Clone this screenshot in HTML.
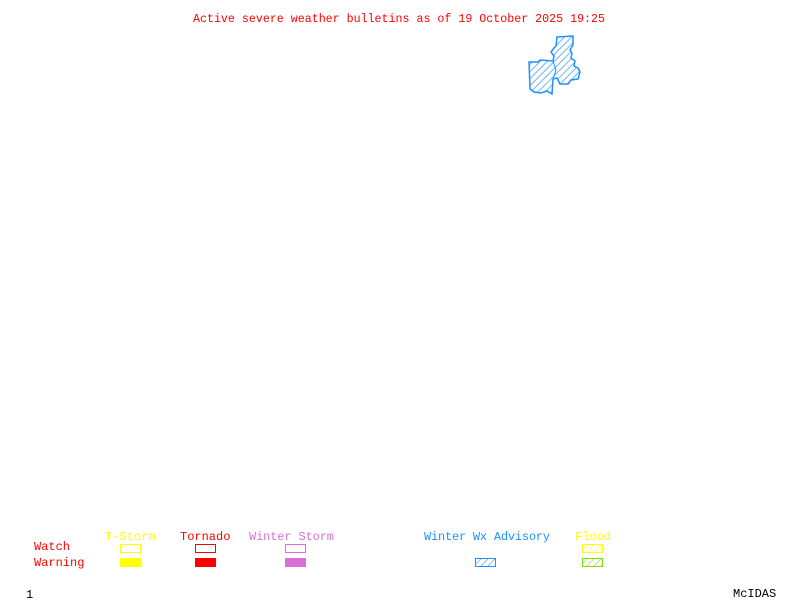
<!DOCTYPE html>
<html><head><meta charset="utf-8"><style>
html,body{margin:0;padding:0;background:#fff;width:800px;height:600px;overflow:hidden}
text{font-family:"Liberation Mono","DejaVu Sans Mono",monospace;font-size:12px}
</style></head><body>
<svg width="800" height="600" xmlns="http://www.w3.org/2000/svg">
<defs>
<pattern id="hb" width="5" height="5" patternUnits="userSpaceOnUse" patternTransform="rotate(45)"><line x1="0" y1="0" x2="0" y2="5" stroke="#1e90ff" stroke-width="1.3"/></pattern>
<pattern id="hb2" width="5" height="5" patternUnits="userSpaceOnUse" patternTransform="rotate(45)"><line x1="0" y1="0" x2="0" y2="5" stroke="#1e90ff" stroke-width="1"/></pattern>
<pattern id="hy" width="5" height="5" patternUnits="userSpaceOnUse" patternTransform="rotate(45)"><line x1="0" y1="0" x2="0" y2="5" stroke="#ffff00" stroke-width="1"/></pattern>
<pattern id="hg" width="5" height="5" patternUnits="userSpaceOnUse" patternTransform="rotate(45)"><line x1="0" y1="0" x2="0" y2="5" stroke="#7fdd00" stroke-width="1"/></pattern>
</defs>
<text x="193" y="22" fill="#ff0000" textLength="412" lengthAdjust="spacingAndGlyphs">Active severe weather bulletins as of 19 October 2025 19:25</text>
<path d="M557,37 L573,36 L573,45 L570,50 L572,53 L571,58 L575,61 L574,66 L578,68 L580,72 L578,79 L571,80 L568,84 L560,84 L557,78 L553,79 L552,94 L547,91 L541,93 L534,92 L530,89 L529,62 L538,62 L540,60 L553,61 L554,56 L551,52 L554,48 L556,46 Z" fill="url(#hb)" stroke="#1e90ff" stroke-width="1.5"/>
<path d="M553,61 L556,70 L553,79" fill="none" stroke="#1e90ff" stroke-width="1"/>
<text x="34" y="550" fill="#ff0000">Watch</text>
<text x="34" y="566" fill="#ff0000">Warning</text>
<text x="105" y="540" fill="#ffff00">T-Storm</text>
<text x="180" y="540" fill="#ff0000">Tornado</text>
<text x="249" y="540" fill="#da70d6" textLength="85">Winter Storm</text>
<text x="424" y="540" fill="#1e90ff" textLength="126">Winter Wx Advisory</text>
<text x="575" y="540" fill="#ffff00">Flood</text>
<rect x="120.5" y="544.5" width="20" height="8" fill="none" stroke="#ffff00"/>
<rect x="120" y="558" width="21" height="9" fill="#ffff00"/>
<rect x="195.5" y="544.5" width="20" height="8" fill="none" stroke="#ff0000"/>
<rect x="195" y="558" width="21" height="9" fill="#ff0000"/>
<rect x="285.5" y="544.5" width="20" height="8" fill="none" stroke="#da70d6"/>
<rect x="285" y="558" width="21" height="9" fill="#da70d6"/>
<rect x="475.5" y="558.5" width="20" height="8" fill="url(#hb2)" stroke="#1e90ff"/>
<rect x="582.5" y="544.5" width="20" height="8" fill="url(#hy)" stroke="#ffff00"/>
<rect x="582.5" y="558.5" width="20" height="8" fill="url(#hg)" stroke="#7fdd00"/>
<text x="26" y="598" fill="#000">1</text>
<text x="733" y="597" fill="#000">McIDAS</text>
</svg>
</body></html>
